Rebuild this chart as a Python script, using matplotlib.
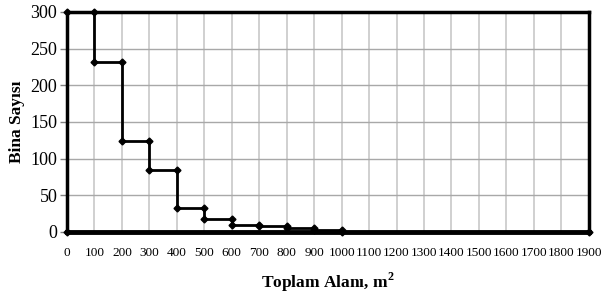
import matplotlib.pyplot as plt

# bin edges (m2) and building counts per bin
bins = [0, 100, 200, 300, 400, 500, 600, 700, 800, 900, 1000]
counts = [300, 232, 124, 84, 33, 18, 10, 8, 5, 2]
x_end = 1900
xticks = list(range(0, 2000, 100))

plt.rcParams['font.family'] = 'Liberation Serif'

# build the step outline: start at (0,0), then each bin's two corners
xs = [bins[0]]
ys = [0]
for i, c in enumerate(counts):
    xs += [bins[i], bins[i + 1]]
    ys += [c, c]
xs += [bins[-1], x_end]
ys += [0, 0]

fig = plt.figure(figsize=(6.02, 2.97), dpi=100)
ax = fig.add_axes([0.1113, 0.219, 0.8667, 0.7406])

ax.plot(xs, ys, color='black', lw=2, marker='D', markersize=3.5, zorder=3, clip_on=False)

ax.set_xlim(0, 1900)
ax.set_ylim(0, 300)
ax.set_xticks(xticks)
ax.set_yticks([0, 50, 100, 150, 200, 250, 300])
ax.grid(axis='x', color='#d0d0d0', lw=1.4)
ax.grid(axis='y', color='#a8a8a8', lw=1)
ax.set_axisbelow(True)
for s in ax.spines.values():
    s.set_linewidth(2.5)
ax.spines['bottom'].set_linewidth(3.5)

ax.tick_params(axis='x', labelsize=9.5, length=0, pad=11)
ax.tick_params(axis='y', labelsize=13, length=5, width=1, color='#808080', pad=2)

ax.set_xlabel('Toplam Alanı, m$^\\mathregular{2}$', fontsize=12.5, fontweight='bold', labelpad=8)
ax.set_ylabel('Bina Sayısı', fontsize=12.5, fontweight='bold', labelpad=4)

plt.savefig('out.png', dpi=100)
